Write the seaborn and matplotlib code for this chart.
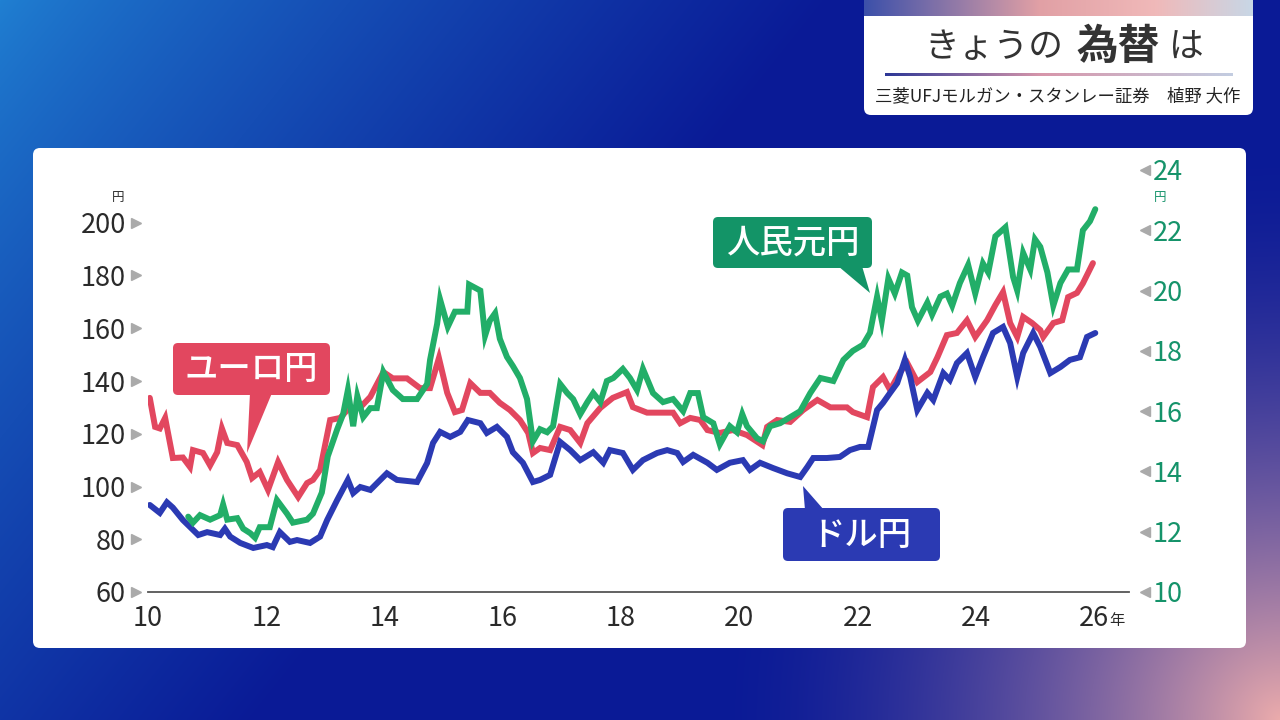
import numpy as np
import pandas as pd
import matplotlib
matplotlib.use("Agg")
import matplotlib.pyplot as plt
import seaborn as sns
from matplotlib.patches import FancyBboxPatch, Polygon

# ---------------- data ----------------
usd_years = [2010.03, 2010.20, 2010.32, 2010.42, 2010.59, 2010.85, 2011.00, 2011.22, 2011.30, 2011.39,
             2011.56, 2011.78, 2012.01, 2012.11, 2012.23, 2012.40, 2012.52, 2012.74, 2012.91, 2013.03,
             2013.20, 2013.38, 2013.47, 2013.59, 2013.76, 2014.04, 2014.21, 2014.55, 2014.72, 2014.82,
             2014.94, 2015.11, 2015.28, 2015.41, 2015.62, 2015.73, 2015.90, 2016.07, 2016.17, 2016.34,
             2016.51, 2016.63, 2016.80, 2016.97, 2017.14, 2017.31, 2017.53, 2017.70, 2017.81, 2018.03,
             2018.20, 2018.37, 2018.61, 2018.78, 2018.95, 2019.05, 2019.22, 2019.46, 2019.62, 2019.84,
             2020.06, 2020.18, 2020.35, 2020.57, 2020.81, 2021.03, 2021.15, 2021.25, 2021.48, 2021.70,
             2021.87, 2022.04, 2022.18, 2022.33, 2022.43, 2022.55, 2022.67, 2022.80, 2022.89, 2023.01,
             2023.18, 2023.28, 2023.45, 2023.56, 2023.68, 2023.85, 2023.99, 2024.12, 2024.29, 2024.46,
             2024.58, 2024.70, 2024.80, 2024.97, 2025.09, 2025.26, 2025.43, 2025.59, 2025.76, 2025.88,
             2026.02]
usd_jpy = [93.0, 90.0, 94.0, 92.0, 87.3, 81.6, 82.7, 81.6, 84.0, 81.0,
           78.6, 76.7, 77.8, 77.0, 82.7, 79.0, 79.7, 78.6, 81.0, 87.3,
           94.9, 102.5, 97.5, 99.8, 98.7, 105.0, 102.5, 101.7, 108.9, 116.5,
           120.7, 118.8, 120.7, 125.2, 124.0, 120.3, 122.6, 118.8, 113.0, 109.0,
           101.7, 102.5, 104.4, 116.9, 113.8, 110.0, 113.0, 109.0, 113.8, 112.7,
           106.3, 110.0, 112.7, 113.8, 112.7, 109.3, 112.0, 109.0, 106.3, 109.0,
           110.0, 106.3, 109.0, 107.0, 105.0, 103.6, 107.4, 110.8, 110.8, 111.2,
           113.8, 115.0, 115.0, 129.0, 131.7, 135.5, 139.2, 148.0, 141.5, 129.0,
           135.5, 132.8, 143.0, 140.4, 146.8, 150.6, 141.5, 149.0, 158.2, 160.5,
           154.4, 141.5, 150.6, 158.2, 152.9, 143.0, 145.3, 148.0, 149.0, 156.7,
           158.2]

eur_years = [2010.03, 2010.12, 2010.20, 2010.29, 2010.42, 2010.59, 2010.71, 2010.76, 2010.93, 2011.05,
             2011.17, 2011.25, 2011.34, 2011.51, 2011.67, 2011.76, 2011.89, 2012.03, 2012.20, 2012.35,
             2012.54, 2012.69, 2012.79, 2012.91, 2013.08, 2013.25, 2013.37, 2013.59, 2013.76, 2013.98,
             2014.14, 2014.38, 2014.60, 2014.77, 2014.92, 2015.06, 2015.19, 2015.31, 2015.45, 2015.62,
             2015.78, 2015.95, 2016.12, 2016.29, 2016.43, 2016.51, 2016.63, 2016.80, 2016.97, 2017.14,
             2017.31, 2017.43, 2017.65, 2017.86, 2018.10, 2018.20, 2018.44, 2018.66, 2018.88, 2019.00,
             2019.17, 2019.34, 2019.46, 2019.67, 2019.89, 2020.13, 2020.39, 2020.47, 2020.64, 2020.86,
             2021.08, 2021.32, 2021.54, 2021.82, 2021.92, 2022.16, 2022.26, 2022.43, 2022.55, 2022.72,
             2022.84, 2023.01, 2023.23, 2023.35, 2023.51, 2023.68, 2023.85, 2023.99, 2024.19, 2024.33,
             2024.46, 2024.58, 2024.70, 2024.80, 2024.95, 2025.09, 2025.14, 2025.31, 2025.46, 2025.56,
             2025.71, 2025.81, 2025.98]
eur_jpy = [133.6, 122.6, 122.0, 126.0, 110.8, 111.0, 107.4, 113.8, 112.7, 108.0,
           113.0, 122.0, 116.5, 115.7, 109.3, 103.2, 105.5, 98.7, 109.3, 102.5,
           96.0, 101.3, 102.5, 106.3, 125.2, 126.0, 129.0, 130.0, 134.0, 143.4,
           141.0, 141.0, 137.3, 137.3, 148.7, 135.5, 128.2, 129.0, 139.2, 135.5,
           135.5, 131.7, 129.0, 125.2, 120.3, 112.7, 114.6, 113.8, 122.6, 121.4,
           116.5, 124.0, 129.8, 133.6, 135.8, 130.1, 128.0, 128.0, 128.0, 124.0,
           126.0, 125.2, 121.4, 120.3, 121.4, 119.5, 115.7, 122.6, 125.2, 124.5,
           129.0, 132.8, 130.0, 130.0, 128.2, 126.3, 137.7, 141.5, 136.6, 143.4,
           146.8, 139.6, 143.4, 149.0, 157.4, 158.2, 163.0, 156.7, 163.0, 168.8,
           173.7, 162.0, 156.7, 164.3, 162.0, 159.3, 156.7, 162.0, 163.0, 171.8,
           173.4, 177.0, 184.7]

cny_years = [2010.68, 2010.76, 2010.88, 2011.05, 2011.22, 2011.27, 2011.34, 2011.51, 2011.61, 2011.73,
             2011.81, 2011.89, 2012.06, 2012.18, 2012.35, 2012.45, 2012.69, 2012.79, 2012.94, 2013.04,
             2013.20, 2013.30, 2013.38, 2013.47, 2013.54, 2013.64, 2013.76, 2013.87, 2013.98, 2014.14,
             2014.31, 2014.55, 2014.72, 2014.77, 2014.89, 2014.94, 2015.07, 2015.19, 2015.40, 2015.43,
             2015.62, 2015.70, 2015.78, 2015.87, 2015.95, 2016.07, 2016.17, 2016.29, 2016.41, 2016.51,
             2016.63, 2016.75, 2016.85, 2016.97, 2017.09, 2017.19, 2017.31, 2017.43, 2017.53, 2017.65,
             2017.76, 2017.87, 2018.03, 2018.15, 2018.27, 2018.37, 2018.54, 2018.71, 2018.88, 2019.05,
             2019.17, 2019.30, 2019.39, 2019.56, 2019.67, 2019.84, 2019.96, 2020.05, 2020.13, 2020.30,
             2020.40, 2020.52, 2020.69, 2020.86, 2021.03, 2021.20, 2021.37, 2021.59, 2021.76, 2021.92,
             2022.09, 2022.21, 2022.33, 2022.41, 2022.52, 2022.63, 2022.75, 2022.84, 2022.92, 2023.02,
             2023.18, 2023.26, 2023.40, 2023.51, 2023.60, 2023.73, 2023.87, 2023.99, 2024.12, 2024.21,
             2024.33, 2024.50, 2024.63, 2024.70, 2024.80, 2024.92, 2025.00, 2025.09, 2025.21, 2025.31,
             2025.43, 2025.56, 2025.71, 2025.81, 2025.93, 2026.02]
cny_jpy = [12.5, 12.3, 12.55, 12.4, 12.55, 12.9, 12.4, 12.45, 12.1, 11.95,
           11.8, 12.15, 12.15, 13.05, 12.6, 12.3, 12.4, 12.6, 13.3, 14.5,
           15.4, 15.9, 16.7, 15.5, 16.5, 15.8, 16.1, 16.1, 17.3, 16.7,
           16.4, 16.4, 16.9, 17.7, 18.9, 19.7, 18.8, 19.3, 19.3, 20.2,
           20.0, 18.5, 19.0, 19.25, 18.4, 17.8, 17.5, 17.1, 16.4, 15.0,
           15.4, 15.3, 15.5, 16.9, 16.6, 16.4, 15.9, 16.3, 16.6, 16.3,
           17.0, 17.1, 17.4, 17.1, 16.7, 17.4, 16.6, 16.3, 16.4, 16.0,
           16.6, 16.6, 15.8, 15.6, 14.9, 15.5, 15.3, 15.9, 15.5, 15.1,
           15.0, 15.5, 15.6, 15.8, 16.0, 16.6, 17.1, 17.0, 17.7, 18.0,
           18.2, 18.6, 19.8, 19.0, 20.4, 19.9, 20.6, 20.5, 19.45, 19.0,
           19.6, 19.2, 19.8, 19.9, 19.5, 20.25, 20.85, 19.9, 20.9, 20.6,
           21.8, 22.1, 20.45, 20.0, 21.25, 20.7, 21.7, 21.45, 20.6, 19.5,
           20.25, 20.7, 20.7, 22.0, 22.3, 22.7]

x_ticks = [2010, 2012, 2014, 2016, 2018, 2020, 2022, 2024, 2026]
x_tick_labels = ["10", "12", "14", "16", "18", "20", "22", "24", "26"]
left_ticks = [60, 80, 100, 120, 140, 160, 180, 200]
right_ticks = [10, 12, 14, 16, 18, 20, 22, 24]

label_eur = "ユーロ円"
label_usd = "ドル円"
label_cny = "人民元円"
title_a, title_b, title_c = "きょうの", "為替", "は"
subtitle = "三菱UFJモルガン・スタンレー証券　植野 大作"

# ---------------- style ----------------
sns.set_style("white")
plt.rcParams['font.family'] = ['Noto Sans CJK JP', 'DejaVu Sans']

RED = "#E2475F"
BLUE = "#2B3AB3"
GREEN = "#22AE68"
GREEN_BOX = "#139467"
GREEN_TXT = "#15936A"
TXT = "#2A2A2A"

W, H = 1280, 720
fig = plt.figure(figsize=(12.8, 7.2), dpi=100)

# background gradient
yy, xx = np.mgrid[0:H, 0:W]
u = xx / W
v = yy / H
t = np.clip((u * 1.0 + v * 0.45) / 0.65, 0, 1) ** 0.8
c1 = np.array([32, 128, 210]) / 255
c2 = np.array([10, 26, 150]) / 255
img = c1 * (1 - t[..., None]) + c2 * t[..., None]
d = np.sqrt(((1 - u) * 1.8) ** 2 + ((1 - v) * 1.0) ** 2)
p = np.clip(1 - d / 0.8, 0, 1) ** 1.7
pink = np.array([236, 172, 172]) / 255
img = img * (1 - p[..., None]) + pink * p[..., None]

bg = fig.add_axes([0, 0, 1, 1], zorder=0)
bg.imshow(img, extent=[0, W, H, 0], aspect='auto')
bg.set_xlim(0, W)
bg.set_ylim(H, 0)
bg.axis('off')

# white chart panel
bg.add_patch(FancyBboxPatch((33, 148), 1213, 500, boxstyle="round,pad=0,rounding_size=7",
                            fc="white", ec="none"))

# title box
bg.add_patch(FancyBboxPatch((864, 8), 389, 107, boxstyle="round,pad=0,rounding_size=7",
                            fc="white", ec="none"))
strip = np.linspace(0, 1, 300)
sc = np.array([[0.0, 60, 80, 170], [0.45, 225, 160, 165], [0.75, 240, 185, 185], [1.0, 200, 215, 230]])
strip_rgb = np.stack([np.interp(strip, sc[:, 0], sc[:, i]) for i in (1, 2, 3)], axis=-1) / 255
bg.imshow(strip_rgb[None, :, :].repeat(2, axis=0), extent=[864, 1253, 16, 0], aspect='auto', zorder=3)
line_c = np.array([[0.0, 45, 55, 150], [0.45, 215, 150, 170], [1.0, 195, 205, 225]])
line_rgb = np.stack([np.interp(strip, line_c[:, 0], line_c[:, i]) for i in (1, 2, 3)], axis=-1) / 255
bg.imshow(line_rgb[None, :, :].repeat(2, axis=0), extent=[885, 1233, 76.5, 73.5], aspect='auto', zorder=3)
bg.text(994, 48, title_a, fontsize=25, color="#333333", ha='center', va='center', zorder=4)
bg.text(1118, 47, title_b, fontsize=30, fontweight='bold', color="#333333", ha='center', va='center', zorder=4)
bg.text(1186, 48, title_c, fontsize=25, color="#333333", ha='center', va='center', zorder=4)
bg.text(1058, 96, subtitle, fontsize=12.5, color="#222222", ha='center', va='center', zorder=4)

# ---------------- main chart ----------------
ax = fig.add_axes([148 / W, (H - 592) / H, (1129 - 148) / W, (592 - 170) / H], zorder=2)
ax.patch.set_alpha(0)
ax2 = ax.twinx()

df_usd = pd.DataFrame({"year": usd_years, "rate": usd_jpy})
df_eur = pd.DataFrame({"year": eur_years, "rate": eur_jpy})
df_cny = pd.DataFrame({"year": cny_years, "rate": cny_jpy})

sns.lineplot(data=df_eur, x="year", y="rate", ax=ax, color=RED, linewidth=4.3, solid_joinstyle='miter')
sns.lineplot(data=df_usd, x="year", y="rate", ax=ax, color=BLUE, linewidth=4.3, solid_joinstyle='miter')
sns.lineplot(data=df_cny, x="year", y="rate", ax=ax2, color=GREEN, linewidth=4.3, solid_joinstyle='miter')

ax.set_xlim(2010, 2026.59)
ax.set_ylim(60, 220)
ax2.set_ylim(10, 24)
for a in (ax, ax2):
    a.set_xlabel("")
    a.set_ylabel("")
    for s in a.spines.values():
        s.set_visible(False)
    a.grid(False)
ax.spines['bottom'].set_visible(True)
ax.spines['bottom'].set_color("#555555")
ax.spines['bottom'].set_linewidth(1.3)

ax.set_xticks(x_ticks)
ax.set_xticklabels(x_tick_labels)
ax.tick_params(axis='x', direction='out', length=4, width=1.2, color="#555555",
               labelsize=19.5, labelcolor=TXT, pad=5)
ax.set_yticks(left_ticks)
ax.set_yticklabels([str(v) for v in left_ticks])
ax.tick_params(axis='y', length=0, labelsize=19.5, labelcolor=TXT, pad=16)
ax2.set_yticks(right_ticks)
ax2.set_yticklabels([str(v) for v in right_ticks])
ax2.tick_params(axis='y', length=0, labelsize=19.5, labelcolor=GREEN_TXT, pad=17)

# small triangle markers next to tick labels
ax.plot([-0.0125] * len(left_ticks), left_ticks, linestyle='none', marker='>', markersize=7,
        color="#AAAAAA", transform=ax.get_yaxis_transform(), clip_on=False)
ax2.plot([1.0165] * len(right_ticks), right_ticks, linestyle='none', marker='<', markersize=7,
         color="#AAAAAA", transform=ax2.get_yaxis_transform(), clip_on=False)

# ---------------- overlay (units, callouts) ----------------
ov = fig.add_axes([0, 0, 1, 1], zorder=5)
ov.patch.set_alpha(0)
ov.set_xlim(0, W)
ov.set_ylim(H, 0)
ov.axis('off')

ov.text(118, 197, "円", fontsize=9, color=TXT, ha='center', va='center')
ov.text(1160, 198, "円", fontsize=9, color=GREEN_TXT, ha='center', va='center')
ov.text(1117, 620, "年", fontsize=11, color=TXT, ha='center', va='center')


def callout(x0, y0, x1, y1, tri, color, text):
    ov.add_patch(FancyBboxPatch((x0, y0), x1 - x0, y1 - y0,
                                boxstyle="round,pad=0,rounding_size=5", fc=color, ec="none"))
    ov.add_patch(Polygon(tri, closed=True, fc=color, ec="none"))
    ov.text((x0 + x1) / 2, (y0 + y1) / 2 + 1, text, fontsize=24, color="white",
            ha='center', va='center', fontweight='medium')


callout(173, 343, 330, 395, [(250, 393), (272, 393), (247, 453)], RED, label_eur)
callout(713, 217, 872, 268, [(838, 266), (862, 266), (870, 293)], GREEN_BOX, label_cny)
callout(783, 508, 940, 561, [(803, 486), (805, 510), (824, 510)], BLUE, label_usd)

fig.savefig("out.png", dpi=100)
